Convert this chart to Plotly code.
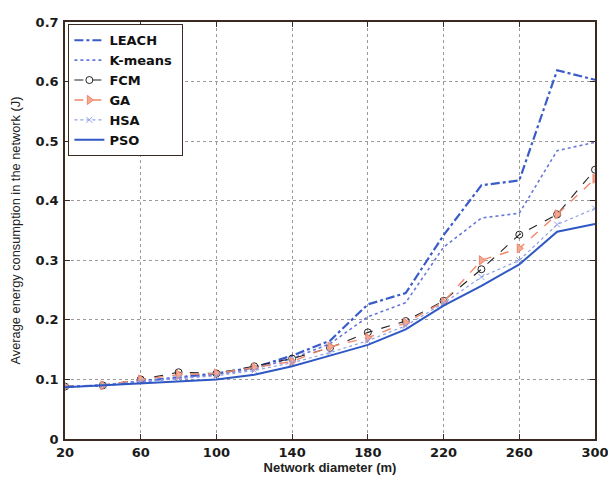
import plotly.graph_objects as go

diameter = [20, 40, 60, 80, 100, 120, 140, 160, 180, 200, 220, 240, 260, 280, 300]
leach  = [0.088, 0.090, 0.097, 0.103, 0.110, 0.120, 0.140, 0.165, 0.226, 0.245, 0.342, 0.426, 0.434, 0.619, 0.603]
kmeans = [0.088, 0.090, 0.096, 0.102, 0.108, 0.118, 0.135, 0.160, 0.205, 0.229, 0.322, 0.371, 0.379, 0.484, 0.498]
fcm    = [0.088, 0.090, 0.100, 0.112, 0.110, 0.122, 0.135, 0.153, 0.179, 0.198, 0.232, 0.285, 0.343, 0.377, 0.452]
ga     = [0.088, 0.090, 0.100, 0.108, 0.110, 0.120, 0.130, 0.155, 0.170, 0.195, 0.230, 0.300, 0.320, 0.377, 0.437]
hsa    = [0.088, 0.090, 0.097, 0.102, 0.106, 0.115, 0.128, 0.145, 0.165, 0.190, 0.228, 0.272, 0.300, 0.360, 0.387]
pso    = [0.087, 0.090, 0.093, 0.097, 0.100, 0.108, 0.122, 0.140, 0.158, 0.184, 0.224, 0.257, 0.293, 0.348, 0.361]

x_ticks = [20, 60, 100, 140, 180, 220, 260, 300]
y_ticks = [0, 0.1, 0.2, 0.3, 0.4, 0.5, 0.6, 0.7]
y_labels = ["0", "0.1", "0.2", "0.3", "0.4", "0.5", "0.6", "0.7"]

FONT = "Liberation Sans, Arial"
BOLD_FONT = "DejaVu Sans"

fig = go.Figure()
fig.add_trace(go.Scatter(x=diameter, y=leach, name="<b>LEACH</b>", mode="lines",
                         line=dict(color="#3a5cc8", width=2.2, dash="dashdot")))
fig.add_trace(go.Scatter(x=diameter, y=kmeans, name="<b>K-means</b>&nbsp;", mode="lines",
                         line=dict(color="#6878d8", width=1.6, dash="dot")))
fig.add_trace(go.Scatter(x=diameter, y=fcm, name="<b>FCM</b>", mode="lines+markers",
                         line=dict(color="#222222", width=1.1, dash="dash"),
                         marker=dict(symbol="circle-open", size=7, color="#222222", line=dict(width=1))))
fig.add_trace(go.Scatter(x=diameter, y=ga, name="<b>GA</b>", mode="lines+markers",
                         line=dict(color="#f0876a", width=1.4, dash="dash"),
                         marker=dict(symbol="triangle-right", size=8, color="#f4a890", line=dict(color="#f0876a", width=1))))
fig.add_trace(go.Scatter(x=diameter, y=hsa, name="<b>HSA</b>", mode="lines+markers",
                         line=dict(color="#8fa0e8", width=1.2, dash="dot"),
                         marker=dict(symbol="x-thin-open", size=6, color="#8fa0e8", line=dict(color="#8fa0e8", width=1))))
fig.add_trace(go.Scatter(x=diameter, y=pso, name="<b>PSO</b>", mode="lines",
                         line=dict(color="#2f58c4", width=2)))

axis_common = dict(showline=True, mirror="ticks", linecolor="#3a2a22", linewidth=1.5,
                   ticks="inside", ticklen=5, tickcolor="#3a2a22",
                   showgrid=True, gridcolor="#9a9a9a", griddash="dot", gridwidth=1,
                   zeroline=False, ticklabeloverflow="allow",
                   tickfont=dict(family=BOLD_FONT, size=13, color="#1a1a1a", weight="bold"))

fig.update_xaxes(range=[20, 300], tickvals=x_ticks, ticklabelstandoff=1,
                 title=dict(text="Network diameter (m)",
                            font=dict(family=FONT, size=13, color="#222222", weight="bold"), standoff=0),
                 **axis_common)
fig.update_yaxes(range=[0, 0.7], tickvals=y_ticks, ticktext=y_labels, ticklabelstandoff=2,
                 title=dict(text="Average energy consumption in the network (J)",
                            font=dict(family=FONT, size=12.8, color="#222222"), standoff=12),
                 **axis_common)

fig.update_layout(
    width=608, height=468,
    margin=dict(l=52, r=16, t=7, b=29),
    paper_bgcolor="white", plot_bgcolor="white",
    showlegend=True,
    legend=dict(x=0.006, y=0.995, xanchor="left", yanchor="top",
                bgcolor="white", bordercolor="#3a2a22", borderwidth=1.2,
                font=dict(family=BOLD_FONT, size=13, color="#111111"),
                tracegroupgap=0, itemwidth=30),
)

fig.write_html("out.html")
